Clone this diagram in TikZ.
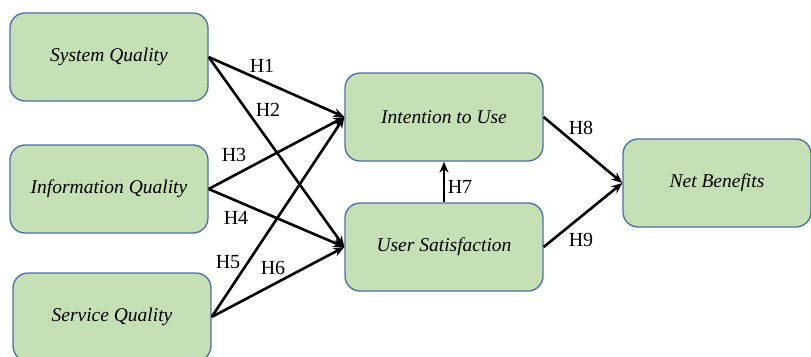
\documentclass[tikz,border=0pt]{standalone}
\usepackage{fontspec}
\setmainfont{Liberation Serif}
\usetikzlibrary{arrows.meta}
\definecolor{boxfill}{HTML}{C5E0B4}
\definecolor{boxline}{HTML}{4A6FA5}

\begin{document}
\begin{tikzpicture}[x=1pt,y=-1pt,
	box/.style={rectangle, rounded corners=15pt, draw=boxline, line width=1.3pt, fill=boxfill,
		minimum width=198pt, minimum height=88pt, font=\fontsize{19.5}{22}\selectfont\itshape},
	hyp/.style={font=\fontsize{20}{22}\selectfont},
	link/.style={-{Stealth[length=11pt,width=9pt]}, line width=2.6pt}]
		\useasboundingbox (0,0) rectangle (811,356);
		\node (sq) [box] at (109,57) {System Quality};
		\node (iq) [box] at (109,189) {Information Quality};
		\node (svq) [box] at (112,317) {Service Quality};
		\node (itu) [box] at (444,117) {Intention to Use};
		\node (us) [box] at (444,247) {User Satisfaction};
		\node (nb) [box, minimum width=188pt] at (717,183) {Net Benefits};

		\draw[link] (sq.east) -- (itu.west);
		\draw[link] (sq.east) -- (us.west);
		\draw[link] (iq.east) -- (itu.west);
		\draw[link] (iq.east) -- (us.west);
		\draw[link] (svq.east) -- (itu.west);
		\draw[link] (svq.east) -- (us.west);
		\draw[link] (us.north) -- (itu.south);
		\draw[link] (itu.east) -- (nb.west);
		\draw[link] (us.east) -- (nb.west);

		\node (h1) [hyp] at (262,66) {H1};
		\node (h2) [hyp] at (268,110) {H2};
		\node (h3) [hyp] at (234,155) {H3};
		\node (h4) [hyp] at (236,218) {H4};
		\node (h5) [hyp] at (228,262) {H5};
		\node (h6) [hyp] at (273,268) {H6};
		\node (h7) [hyp] at (460,187) {H7};
		\node (h8) [hyp] at (581,128) {H8};
		\node (h9) [hyp] at (581,240) {H9};
	\end{tikzpicture}
\end{document}
